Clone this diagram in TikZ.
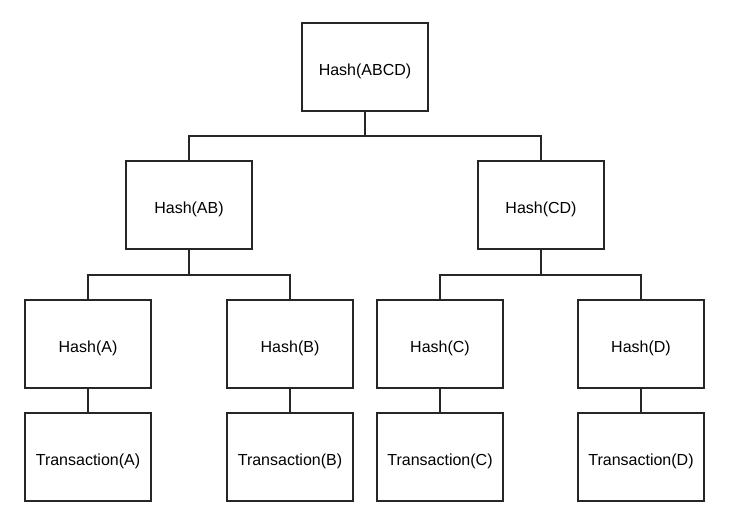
\documentclass[tikz,border=0pt]{standalone}
\usepackage{fontspec}
\setmainfont{Liberation Sans}
\begin{document}
\begin{tikzpicture}[x=1pt,y=-1pt,
  box/.style={draw=black!85,line width=2pt,minimum width=126pt,minimum height=88pt,inner sep=0pt,text height=16pt,text depth=0pt,font=\fontsize{16}{19}\selectfont},
  conn/.style={draw=black!85,line width=2pt}]
\useasboundingbox (0,0) rectangle (733,531);
\node[box] (top) at (365,67) {Hash(ABCD)};
\node[box] (ab) at (189,205) {Hash(AB)};
\node[box] (cd) at (541,205) {Hash(CD)};
\node[box] (ha) at (88,344) {Hash(A)};
\node[box] (hb) at (290,344) {Hash(B)};
\node[box] (hc) at (440,344) {Hash(C)};
\node[box] (hd) at (641,344) {Hash(D)};
\node[box] (ta) at (88,457) {Transaction(A)};
\node[box] (tb) at (290,457) {Transaction(B)};
\node[box] (tc) at (440,457) {Transaction(C)};
\node[box] (td) at (641,457) {Transaction(D)};
\coordinate (j1) at (365,136);
\coordinate (j2) at (189,275);
\coordinate (j3) at (541,275);
\draw[conn] (top.south) -- (j1);
\draw[conn] (j1) -| (ab.north);
\draw[conn] (j1) -| (cd.north);
\draw[conn] (ab.south) -- (j2);
\draw[conn] (j2) -| (ha.north);
\draw[conn] (j2) -| (hb.north);
\draw[conn] (cd.south) -- (j3);
\draw[conn] (j3) -| (hc.north);
\draw[conn] (j3) -| (hd.north);
\draw[conn] (ha) -- (ta);
\draw[conn] (hb) -- (tb);
\draw[conn] (hc) -- (tc);
\draw[conn] (hd) -- (td);
\end{tikzpicture}
\end{document}
